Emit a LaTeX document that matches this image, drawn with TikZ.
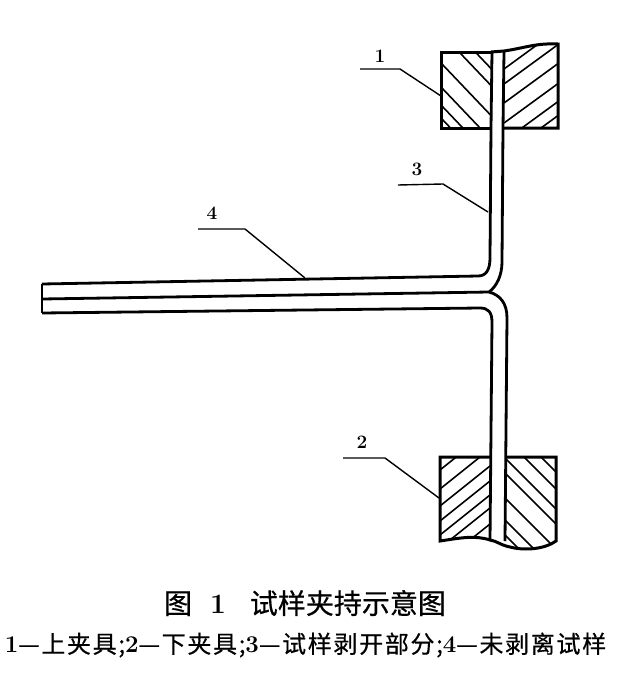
\documentclass[tikz,border=0pt]{standalone}
\usepackage{fontspec}
\usepackage{tikz}
\newfontfamily\cjk[FakeBold=0.5]{Noto Sans CJK SC}
\tikzset{
    clampline/.style={line width=3pt, line join=miter},
    stripline/.style={line width=2.8pt},
    hatchline/.style={line width=1.6pt},
    leaderline/.style={line width=1.4pt},
    partlabel/.style={inner sep=0pt, font=\fontsize{19}{19}\selectfont\bfseries},
}
\newcommand{\hatching}[4]{\begin{scope} \clip #1; \foreach \ystart in {#3} { \draw[hatchline] (#2,\ystart) -- ++(130,{130*#4}); } \end{scope}}
\newcommand{\dgt}[1]{{\rmfamily\bfseries #1}}

\begin{document}
\begin{tikzpicture}[x=1pt,y=-1pt]
        \useasboundingbox (0,0) rectangle (630,675);
        % upper clamp
        \hatching{(441,52) rectangle (491,128)}{441}{16,33,63,87,105,118}{1.05}
        \hatching{(504,128) -- (504,52) .. controls (525,48) and (535,43) .. (558,44) -- (558,128) -- cycle}{504}{69,84,103,123,141,155}{-0.73}
        \draw[clampline] (491,128) -- (441,128) -- (441,52) -- (491,52);
        \draw[clampline] (491,52) -- (504,51) .. controls (525,48) and (535,43) .. (558,44) -- (558,128) -- (504,128);
        % lower clamp
        \hatching{(440,457) -- (440,541) .. controls (460,538) and (475,535) .. (490,540) -- (490,457) -- cycle}{440}{470,489,506,521,535,548,564}{-0.8}
        \hatching{(505,457) -- (505,545) -- (510,547) .. controls (525,551) and (545,549) .. (556,541) -- (556,457) -- cycle}{505}{421,438,458,473,498,520,535}{1}
        \draw[clampline] (490,457) -- (440,457) -- (440,541) .. controls (460,538) and (475,535) .. (490,540);
        \draw[clampline] (490,540) .. controls (497,541) and (500,545) .. (510,547) .. controls (525,551) and (545,549) .. (556,541) -- (556,457) -- (505,457);
        % strip
        \draw[stripline] (42,284) -- (42,313);
        \draw[stripline] (492,52) -- (491,128) -- (490,258) .. controls (490,270) and (486,276) .. (478,276) -- (42,284);
        \draw[stripline] (504,52) -- (503,128) -- (502,262) .. controls (502,275) and (497,286) .. (489,292) -- (42,299);
        \draw[stripline] (489,292) .. controls (500,295) and (507,303) .. (507,318) -- (505,541);
        \draw[stripline] (42,313) -- (480,308) .. controls (488,308) and (492,312) .. (492,322) -- (490,541);
        % leader 1
        \coordinate (free1) at (360,69);
        \coordinate (bend1) at (400,69);
        \coordinate (tip1) at (441,96);
        \draw[leaderline] (free1) -- (bend1) -- (tip1);
        \node[partlabel] (lbl1) at (380,56) {1};
        % leader 2
        \coordinate (free2) at (343,458);
        \coordinate (bend2) at (385,458);
        \coordinate (tip2) at (439,498);
        \draw[leaderline] (free2) -- (bend2) -- (tip2);
        \node[partlabel] (lbl2) at (362,442) {2};
        % leader 3
        \coordinate (free3) at (398,185);
        \coordinate (bend3) at (443,184);
        \coordinate (tip3) at (488,212);
        \draw[leaderline] (free3) -- (bend3) -- (tip3);
        \node[partlabel] (lbl3) at (417,169) {3};
        % leader 4
        \coordinate (free4) at (198,229);
        \coordinate (bend4) at (245,229);
        \coordinate (tip4) at (305,278);
        \draw[leaderline] (free4) -- (bend4) -- (tip4);
        \node[partlabel] (lbl4) at (212,213) {4};
        % captions
        \node[inner sep=0pt] (title) at (305,603) {\fontsize{28}{28}\selectfont\cjk 图\hspace{18pt}\dgt{1}\hspace{24pt}试样夹持示意图};
        \node[inner sep=0pt] (legend) at (305.5,645) {\fontsize{24}{24}\selectfont\cjk\addfontfeature{LetterSpace=7} \dgt{1}—上夹具;\dgt{2}—下夹具;\dgt{3}—试样剥开部分;\dgt{4}—未剥离试样};
\end{tikzpicture}
\end{document}
